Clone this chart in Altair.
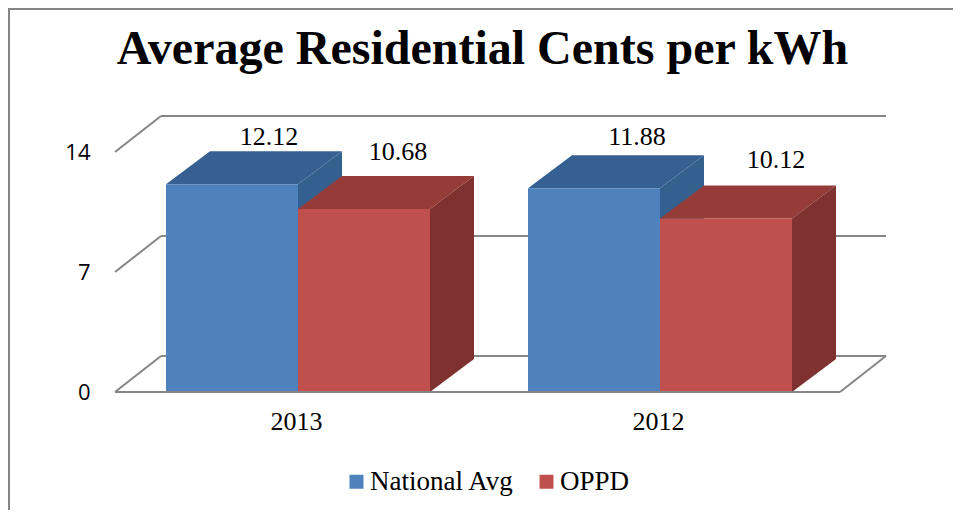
import altair as alt
import pandas as pd

categories = ["2013", "2012"]
series = ["National Avg", "OPPD"]
national_avg = [12.12, 11.88]
oppd = [10.68, 10.12]
y_ticks = [0, 7, 14]

SERIF = "Liberation Serif"
GRID = "#868686"
FRONT = {"National Avg": "#4f81bd", "OPPD": "#c0504d"}
TOP = {"National Avg": "#376092", "OPPD": "#953c39"}
SIDE = {"National Avg": "#33608f", "OPPD": "#7f312f"}

# Geometry, in data units (1 x unit = one category slot, y unit = cents)
BAR_W = 132 / 362
BAR_DX, BAR_DY = 44 / 362, 33 / (240 / 14)
WALL_DX, WALL_DY = 46 / 362, 36 / (240 / 14)
X_MIN, X_MAX = -183 / 362, 542 / 362

x_scale = alt.Scale(domain=[X_MIN, X_MAX], nice=False, zero=False)
y_scale = alt.Scale(domain=[0, 14], nice=False, zero=False)

x_labels = "{" + ",".join(f"'{i}':'{c}'" for i, c in enumerate(categories)) + "}"
y_axis = alt.Axis(values=y_ticks, domain=False, ticks=False, grid=False, labelPadding=25,
                  labelFont="Open Sans", labelFontSize=22, labelColor="#000000", title=None)
x_axis = alt.Axis(values=[0, 1], domain=False, ticks=False, grid=False, labelPadding=16,
                  labelFont=SERIF, labelFontSize=26, labelColor="#000000", labelOffset=-2,
                  labelExpr=f"{x_labels}[datum.value]", labelAngle=0, title=None)


def X():
    return alt.X("x:Q", scale=x_scale, axis=x_axis)


def Y():
    return alt.Y("y:Q", scale=y_scale, axis=y_axis)


# Walls and floor
segs = []
for t in y_ticks:
    segs.append(dict(x=X_MIN, x2=X_MIN + WALL_DX, y=t, y2=t + WALL_DY))
    segs.append(dict(x=X_MIN + WALL_DX, x2=X_MAX + WALL_DX, y=t + WALL_DY, y2=t + WALL_DY))
segs.append(dict(x=X_MAX, x2=X_MAX + WALL_DX, y=0, y2=WALL_DY))

walls = alt.Chart(pd.DataFrame(segs)).mark_rule(color=GRID, strokeWidth=2).encode(
    x=X(), x2="x2:Q", y=Y(), y2="y2:Q")

# Bars
layers = [walls]
values = {"National Avg": national_avg, "OPPD": oppd}
for s_i, s in enumerate(series):
    top_rows, side_rows, front_rows = [], [], []
    for c_i, c in enumerate(categories):
        v = values[s][c_i]
        x0 = c_i + (s_i - 1) * BAR_W
        x1 = x0 + BAR_W
        key = f"{s}{c}"
        top_rows += [dict(k=key, y=v, x=x0, x2=x1),
                     dict(k=key, y=v + BAR_DY, x=x0 + BAR_DX, x2=x1 + BAR_DX)]
        side_rows += [dict(k=key, x=x1, y=0, y2=v),
                      dict(k=key, x=x1 + BAR_DX, y=BAR_DY, y2=v + BAR_DY)]
        front_rows.append(dict(series=s, x=x0, x2=x1, y=0, y2=v))
    layers.append(alt.Chart(pd.DataFrame(top_rows)).mark_area(orient="horizontal", color=TOP[s]).encode(
        x=X(), x2="x2:Q", y=Y(), detail="k:N"))
    layers.append(alt.Chart(pd.DataFrame(side_rows)).mark_area(orient="vertical", color=SIDE[s]).encode(
        x=X(), y=Y(), y2="y2:Q", detail="k:N"))
    layers.append(alt.Chart(pd.DataFrame(front_rows)).mark_rect().encode(
        x=X(), x2="x2:Q", y=Y(), y2="y2:Q",
        color=alt.Color("series:N",
                        scale=alt.Scale(domain=series, range=[FRONT[n] for n in series]),
                        legend=alt.Legend(orient="none", legendX=226, legendY=316, direction="horizontal",
                                          title=None, symbolType="square", symbolSize=196, symbolOffset=2,
                                          symbolStrokeWidth=0, labelFont=SERIF, labelFontSize=27,
                                          labelColor="#000000", labelOffset=0, columnPadding=16,
                                          labelLimit=300))))

# Floor front edge sits over the bars
layers.append(alt.Chart(pd.DataFrame({"x": [X_MIN], "x2": [X_MAX], "y": [0]})).mark_rule(
    color=GRID, strokeWidth=2).encode(x=X(), x2="x2:Q", y=Y()))

# Data labels, each placed by hand like the original
label_pos = {("National Avg", "2013"): (37, -14), ("OPPD", "2013"): (34, -24),
             ("National Avg", "2012"): (43, -18), ("OPPD", "2012"): (50, -26)}
for s_i, s in enumerate(series):
    for c_i, c in enumerate(categories):
        v = values[s][c_i]
        dx, dy = label_pos[(s, c)]
        row = dict(x=c_i + (s_i - 0.5) * BAR_W, y=v + BAR_DY, t=f"{v:.2f}")
        layers.append(alt.Chart(pd.DataFrame([row])).mark_text(
            font=SERIF, fontSize=26, color="#000000", dx=dx, dy=dy, baseline="middle", align="center"
        ).encode(x=X(), y=Y(), text="t:N"))

# Chart frame (left and top edges)
layers.append(alt.Chart(pd.DataFrame({"a": [0]})).mark_rule(color=GRID, strokeWidth=2).encode(
    x=alt.value(-106), y=alt.value(-144), y2=alt.value(358)))
layers.append(alt.Chart(pd.DataFrame({"a": [0]})).mark_rule(color=GRID, strokeWidth=2).encode(
    x=alt.value(-107), x2=alt.value(838), y=alt.value(-143)))

chart = alt.layer(*layers).properties(
    width=725, height=240,
    padding={"left": 107, "top": 144, "right": 113, "bottom": 118},
    autosize=alt.AutoSizeParams(type="none"),
    background="#ffffff",
    title=alt.TitleParams("Average Residential Cents per kWh", font=SERIF, fontWeight="bold", fontSize=48,
                          color="#000000", anchor="middle", dx=5, offset=0, dy=67),
).configure_view(stroke=None)

chart.save("out.html", embed_options={"renderer": "svg", "actions": False})
